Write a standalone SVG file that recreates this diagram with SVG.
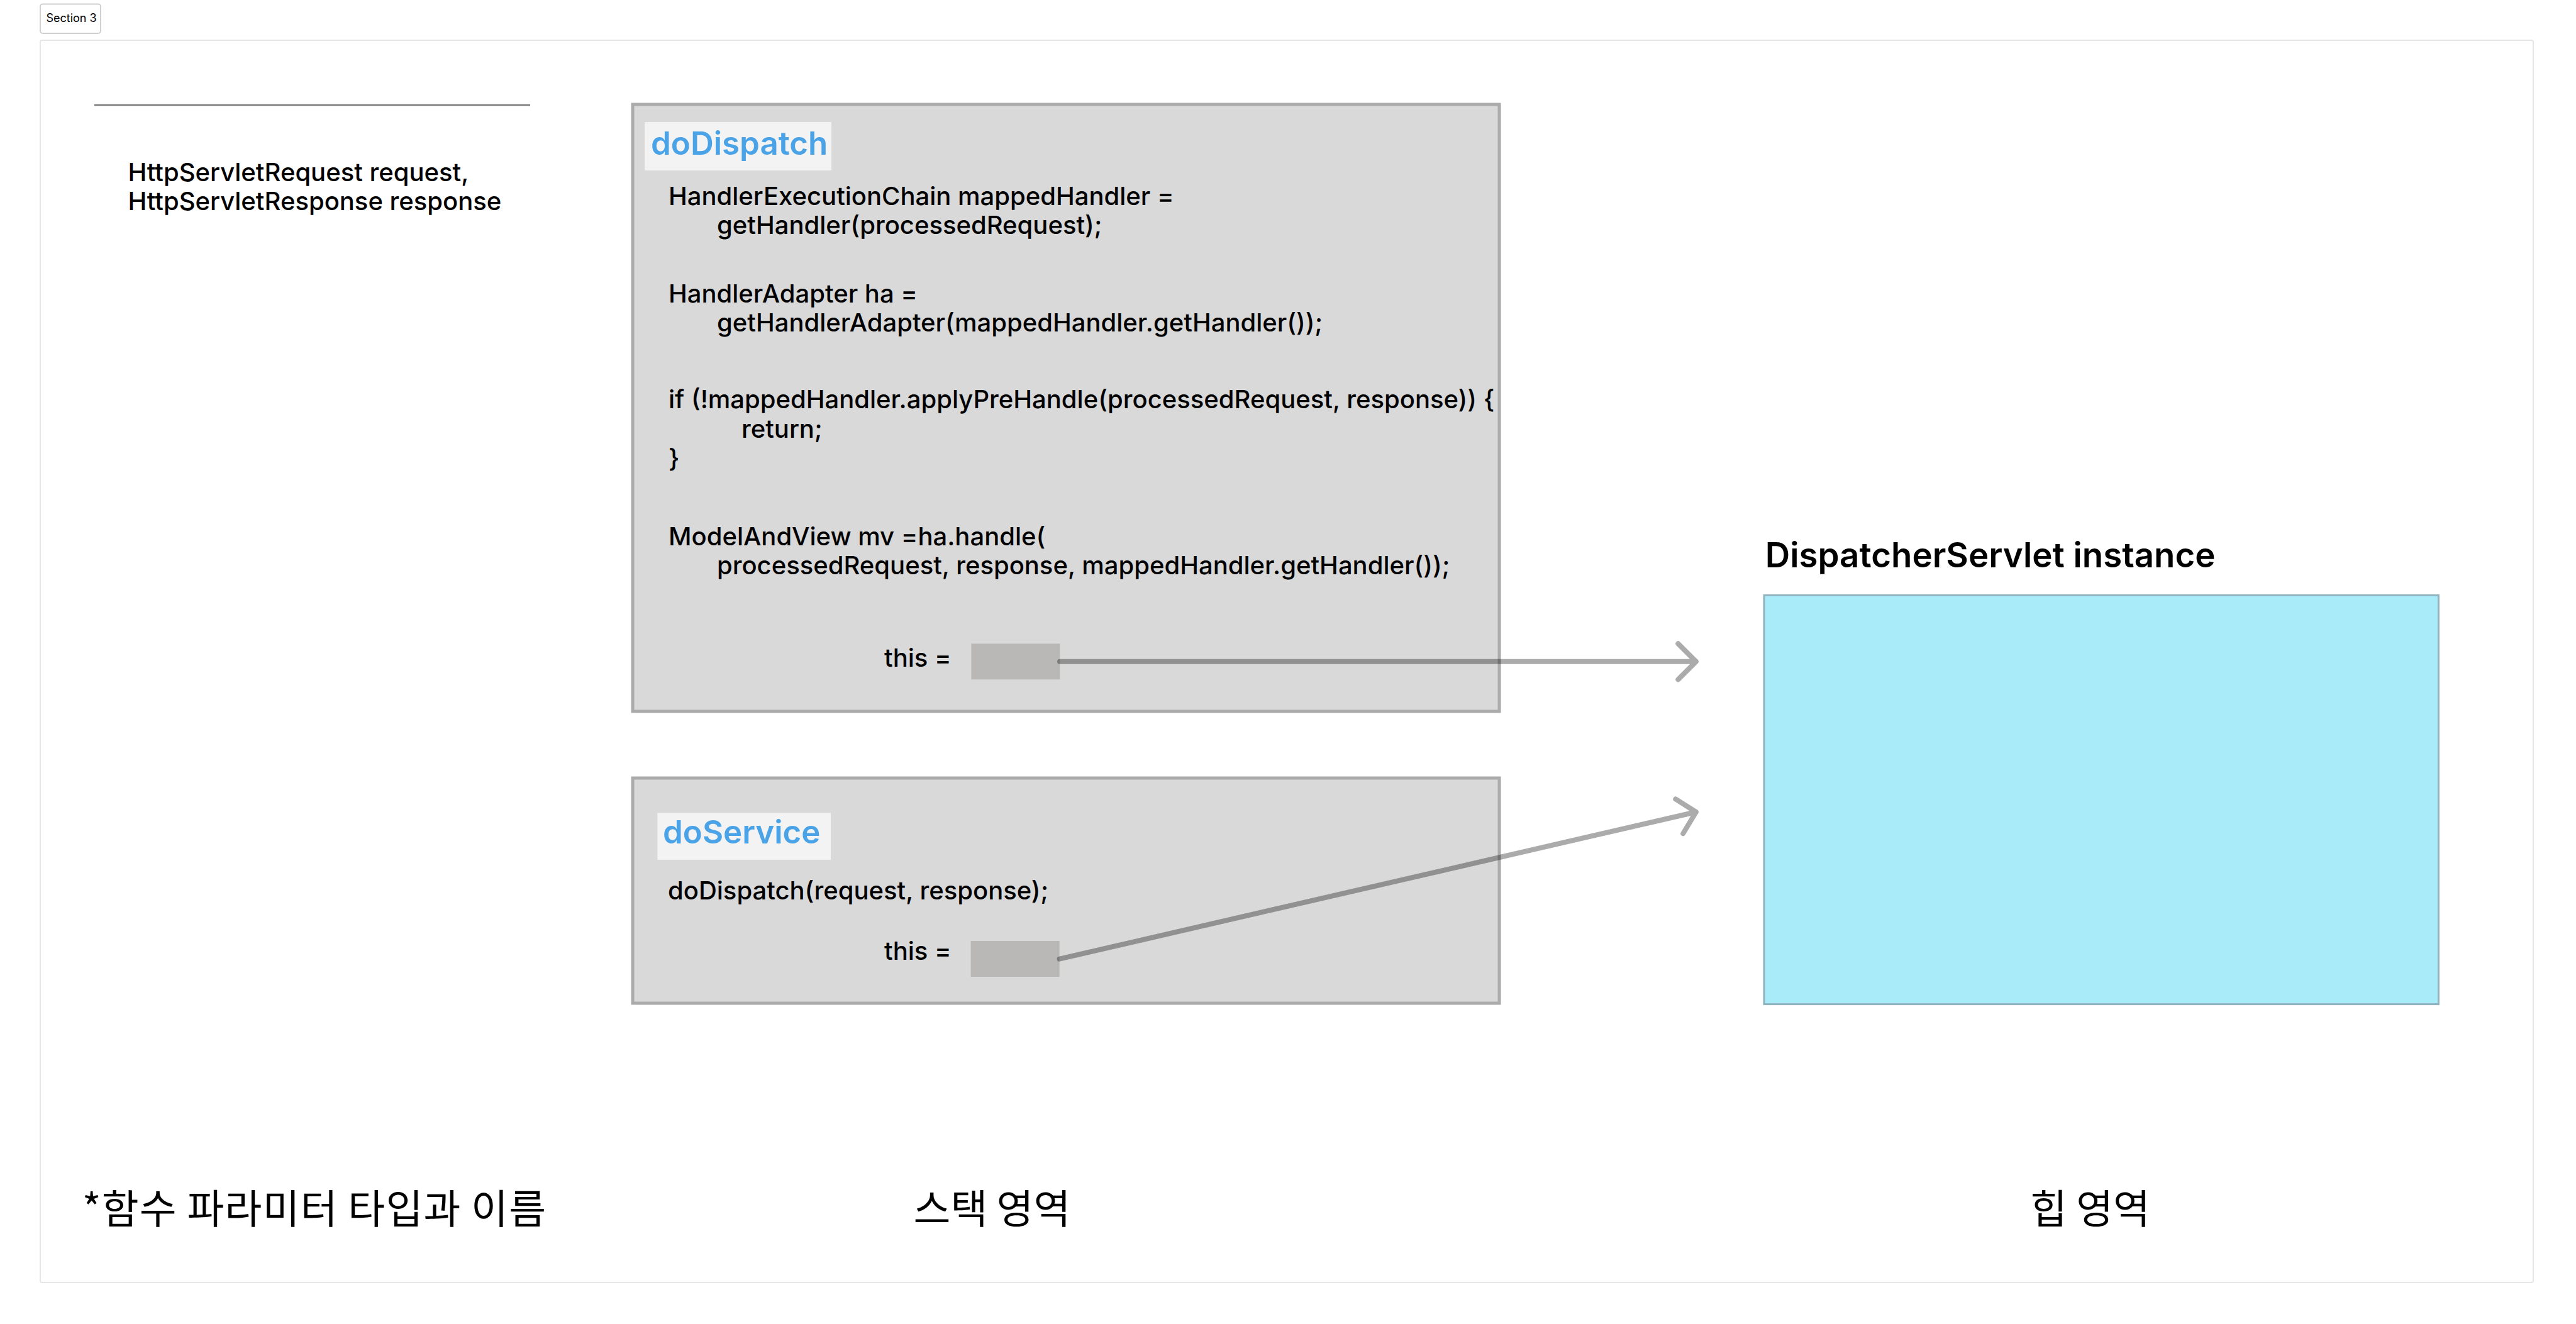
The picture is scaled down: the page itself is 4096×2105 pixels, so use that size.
<svg xmlns="http://www.w3.org/2000/svg" width="4096" height="2105" viewBox="0 0 4096 2105">
<style>
  .t { font-family: Inter, "Liberation Sans", sans-serif; fill: #000; }
  .code { font-size: 40px; font-weight: 500; }
  .title { font-size: 51px; font-weight: 600; fill: #4aa3e6; }
  .kr { font-family: "Noto Sans CJK KR", "Noto Sans", sans-serif; font-size: 64px; fill: #000; }
  .frame { fill: #d9d9d9; stroke: #ababab; stroke-width: 5; }
  .lbl { fill: #f3f3f3; }
  .ref { fill: #b9b8b7; }
  .conn { fill: none; stroke: #000; stroke-opacity: 0.33; stroke-width: 8; stroke-linecap: round; stroke-linejoin: round; }
</style>
<rect width="4096" height="2105" fill="#fff"/>
<g id="section">
  <rect x="64" y="64" width="3964" height="1975" rx="3" fill="#fff" stroke="#e6e6e6" stroke-width="2"/>
  <rect x="64" y="6.5" width="96" height="46.5" rx="4" fill="#fff" stroke="#d0d0d0" stroke-width="2"/>
  <text class="t" x="73.5" y="34.8" font-size="18">Section 3</text>
</g>
<g id="params">
  <line x1="150" y1="167" x2="843" y2="167" stroke="#7a7a7a" stroke-width="2.5"/>
  <text class="t code" x="203.5" y="287.5">HttpServletRequest request,</text>
  <text class="t code" x="203.5" y="334.2">HttpServletResponse response</text>
</g>
<g id="doDispatch">
  <rect class="frame" x="1006" y="166" width="1378" height="965"/>
  <rect class="lbl" x="1025" y="194" width="297" height="77"/>
  <text class="t title" x="1035" y="245.5">doDispatch</text>
  <text class="t code" x="1063" y="326.3">HandlerExecutionChain mappedHandler =</text>
  <text class="t code" x="1140" y="372.2">getHandler(processedRequest);</text>
  <text class="t code" x="1063" y="480.7">HandlerAdapter ha =</text>
  <text class="t code" x="1140" y="526.7">getHandlerAdapter(mappedHandler.getHandler());</text>
  <text class="t code" x="1063" y="649.4">if (!mappedHandler.applyPreHandle(processedRequest, response)) {</text>
  <text class="t code" x="1179" y="696.2">return;</text>
  <text class="t code" x="1063" y="742.9">}</text>
  <text class="t code" x="1063" y="867.2">ModelAndView mv =ha.handle(</text>
  <text class="t code" x="1140" y="913.2">processedRequest, response, mappedHandler.getHandler());</text>
  <text class="t code" x="1406" y="1059.7">this =</text>
  <rect class="ref" x="1544.4" y="1023.3" width="141" height="57"/>
</g>
<g id="doService">
  <rect class="frame" x="1006" y="1237" width="1378" height="358"/>
  <rect class="lbl" x="1045.4" y="1292.5" width="275.6" height="74.4"/>
  <text class="t title" x="1054" y="1341">doService</text>
  <text class="t code" x="1062" y="1429.6">doDispatch(request, response);</text>
  <text class="t code" x="1406" y="1526">this =</text>
  <rect class="ref" x="1543.6" y="1496" width="141" height="57"/>
</g>
<g id="dispatcherServlet">
  <text class="t" x="2806.8" y="902" font-size="54.6" font-weight="600">DispatcherServlet instance</text>
  <rect x="2805" y="946.4" width="1072.4" height="650.2" fill="#aaebfa" stroke="#8fb4bf" stroke-width="3"/>
</g>
<g id="labels">
  <text class="kr" x="130.7" y="1945" letter-spacing="1.2">*함수 파라미터 타입과 이름</text>
  <text class="kr" x="1452.5" y="1945">스택 영역</text>
  <text class="kr" x="3228" y="1945">힙 영역</text>
</g>
<g id="connectors">
  <path class="conn" d="M1685 1051.8 L2696.8 1051.8 M2668.3 1023.3 L2696.8 1051.8 L2668.3 1080.3"/>
  <path class="conn" d="M1684.6 1524.6 L2696.8 1291 M2664.3 1270.4 L2696.8 1291 L2676.2 1325.2"/>
</g>
</svg>
